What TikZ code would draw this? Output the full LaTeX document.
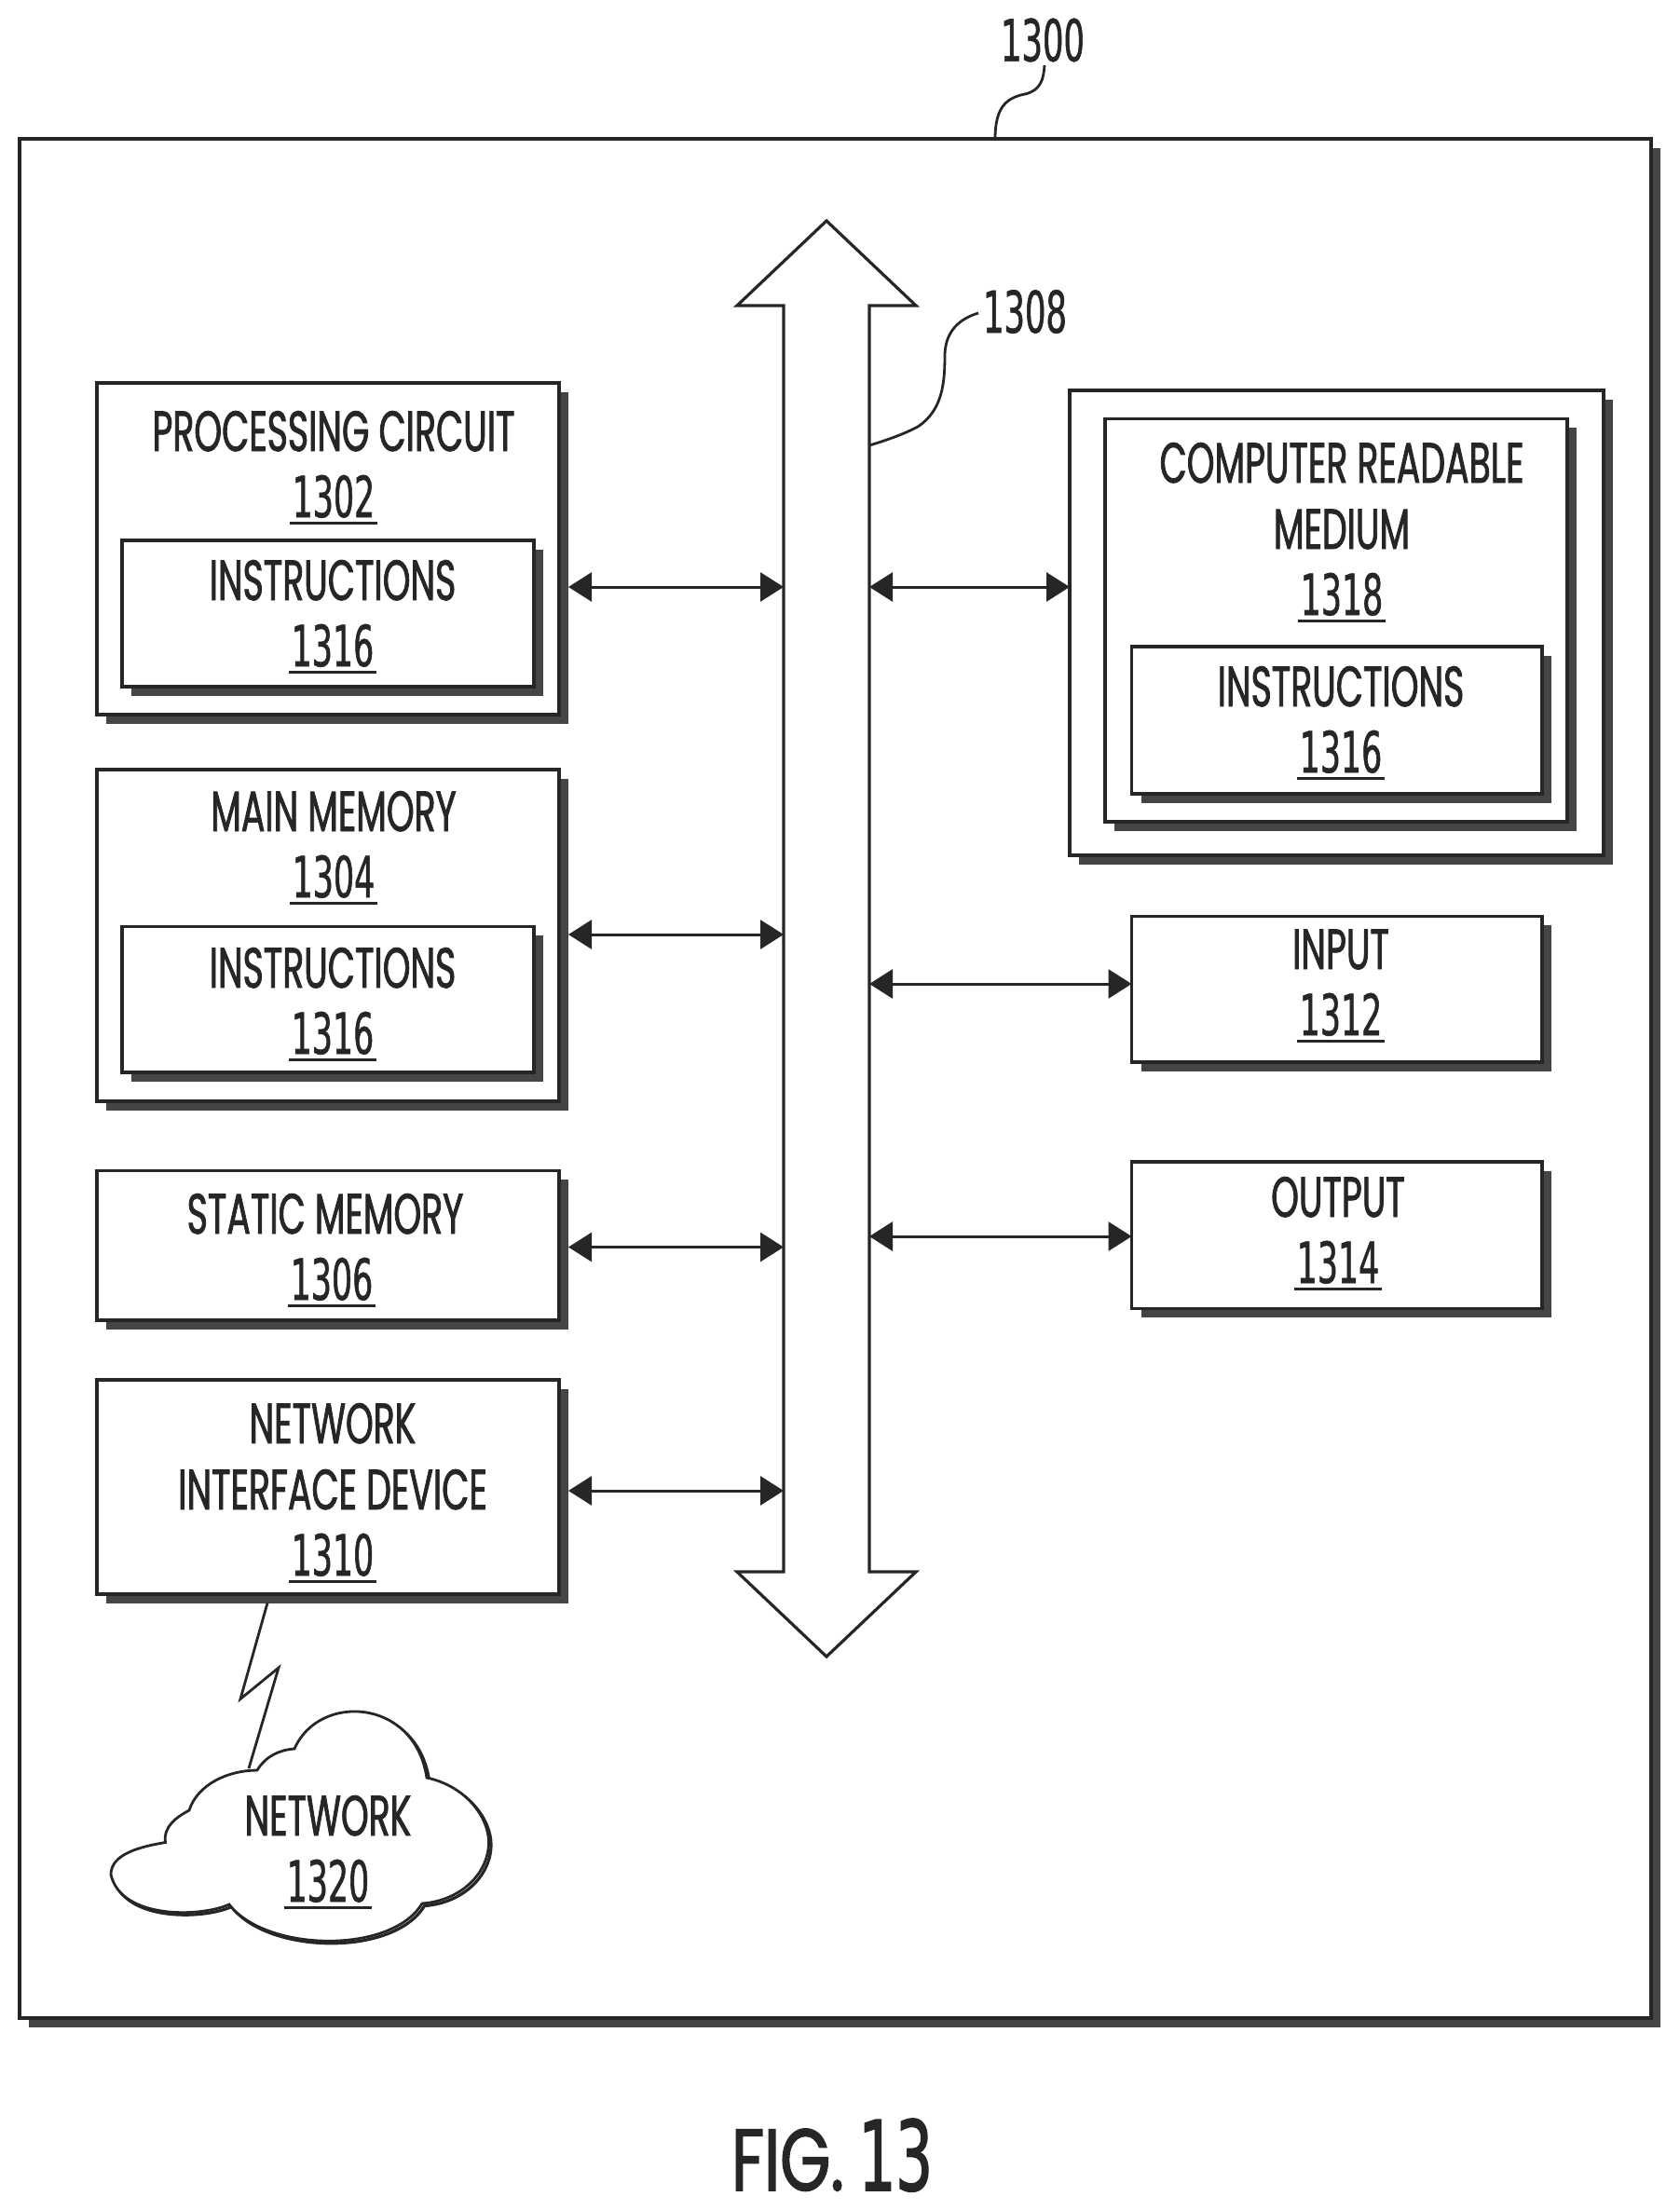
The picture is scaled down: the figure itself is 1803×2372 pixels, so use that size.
\documentclass[tikz,border=0pt]{standalone}
\usepackage{fontspec}
\setmainfont{Poppins}[FakeStretch=0.62,FakeBold=1.3]
\newfontfamily\numfont{DejaVu Sans}[FakeStretch=0.57,FakeBold=0.9]
\newfontfamily\figfont{Poppins}[FakeStretch=0.74,FakeBold=1.6]
\newfontfamily\fignum{DejaVu Sans}[FakeStretch=0.6,FakeBold=1.4]
\usetikzlibrary{arrows.meta}
\definecolor{ink}{gray}{0.15}
\definecolor{shade}{gray}{0.27}
\newcommand{\unum}[1]{\setbox0\hbox{\numfont #1}\hbox{\rlap{\kern-1.5pt\rule[-4pt]{\dimexpr\wd0+3pt\relax}{1.6pt}}\box0}}
\newcommand{\pbox}[5]{%
  \pgfmathsetmacro{\bw}{(#4-#2)*0.5}\pgfmathsetmacro{\bh}{(#5-#3)*0.5}%
  \node[shadowbox,minimum width=\bw pt,minimum height=\bh pt] (#1-s) at ({(#2+#4)/2+10},{(#3+#5)/2+9.5}) {};
  \node[panel,minimum width=\bw pt,minimum height=\bh pt] (#1) at ({(#2+#4)/2},{(#3+#5)/2}) {};
}
\tikzset{
  panel/.style={draw=ink,fill=white,line width=1.6pt,inner sep=0pt,outer sep=0pt},
  shadowbox/.style={fill=shade,inner sep=0pt,outer sep=0pt},
  lbl/.style={text=ink,align=center,anchor=north,inner sep=0pt,outer sep=0pt,font=\fontsize{30.5}{35.5}\selectfont},
  ref/.style={text=ink,inner sep=0pt,outer sep=0pt,font=\numfont\fontsize{31}{35}\selectfont},
  pen/.style={draw=ink,line width=1.6pt,line join=miter},
  biarrow/.style={draw=ink,line width=1.5pt,{Triangle[length=12.5pt,width=15.5pt]}-{Triangle[length=12.5pt,width=15.5pt]}},
  thinpen/.style={draw=ink,line width=1.4pt}
}
\begin{document}
\begin{tikzpicture}[x=0.5pt,y=-0.5pt]
\useasboundingbox (0,0) rectangle (1803,2372);
% outer frame
\pbox{frame}{21}{149}{1772}{2166}
% bus
\node[inner sep=0pt,outer sep=0pt,minimum width=46pt,minimum height=679.5pt] (bus) at (887,1007.5) {};
\draw[pen,fill=white] (887,237) -- (983,328) -- (bus.north east) -- (bus.south east) -- (983,1687) -- (887,1778) -- (791,1687) -- (bus.south west) -- (bus.north west) -- (791,328) -- cycle;
% left column
\pbox{pc}{104}{411}{600}{767}
\pbox{pci}{131}{580}{573}{737}
\pbox{mm}{104}{826}{600}{1182}
\pbox{mmi}{131}{994.5}{573}{1151}
\pbox{sm}{104}{1256.5}{600}{1417}
\pbox{nid}{104}{1481}{600}{1711}
% right column
\pbox{crm}{1148}{419}{1721}{918}
\pbox{crmm}{1186}{449.5}{1682}{882}
\pbox{crmi}{1214.5}{694}{1655}{852}
\pbox{inp}{1214.5}{983.5}{1655}{1140}
\pbox{out}{1214.5}{1247}{1655}{1404.5}
% labels
\node[lbl] (pct) at (358,441) {PROCESSING CIRCUIT\\\unum{1302}};
\node[lbl] (pcit) at (357,601) {INSTRUCTIONS\\\unum{1316}};
\node[lbl] (mmt) at (358,849) {MAIN MEMORY\\\unum{1304}};
\node[lbl] (mmit) at (357,1017) {INSTRUCTIONS\\\unum{1316}};
\node[lbl] (smt) at (356,1281) {STATIC MEMORY\hspace*{7pt}\\\unum{1306}};
\node[lbl] (nidt) at (357,1506) {NETWORK\\INTERFACE DEVICE\\\unum{1310}};
\node[lbl] (crmt) at (1440,475) {COMPUTER READABLE\\MEDIUM\\\unum{1318}};
\node[lbl] (crmit) at (1439,715) {INSTRUCTIONS\\\unum{1316}};
\node[lbl] (inpt) at (1439,997.5) {INPUT\\\unum{1312}};
\node[lbl] (outt) at (1436,1263) {OUTPUT\\\unum{1314}};
% connector heights
\coordinate (ya) at (0,630);
\coordinate (yb) at (0,1003);
\coordinate (yc) at (0,1338.5);
\coordinate (yd) at (0,1600);
\coordinate (ye) at (0,1056);
\coordinate (yf) at (0,1327);
\draw[biarrow] (pc-s.east |- ya) -- (bus.west |- ya);
\draw[biarrow] (mm-s.east |- yb) -- (bus.west |- yb);
\draw[biarrow] (sm-s.east |- yc) -- (bus.west |- yc);
\draw[biarrow] (nid-s.east |- yd) -- (bus.west |- yd);
\draw[biarrow] (bus.east |- ya) -- (crm.west |- ya);
\draw[biarrow] (bus.east |- ye) -- (inp.west |- ye);
\draw[biarrow] (bus.east |- yf) -- (out.west |- yf);
% cloud
\def\cloudpath{(119,2012) .. controls (119,1990) and (150,1982) .. (177.5,1977.5)
 .. controls (175,1960) and (190,1950) .. (203,1943)
 .. controls (212,1915) and (245,1900) .. (276,1900)
 .. controls (285,1885) and (300,1878) .. (316,1877)
 .. controls (342,1817) and (445,1822) .. (458,1908)
 .. controls (500,1917) and (524,1950) .. (524.5,1976.5)
 .. controls (525,2010) and (495,2040) .. (453,2043)
 .. controls (420,2098) and (285,2095) .. (246,2044)
 .. controls (215,2058) and (130,2060) .. (119,2012) -- cycle}
\draw[draw=ink,line width=1.6pt,shift={(2.5,2.5)}] \cloudpath;
\draw[draw=ink,fill=white,line width=1.4pt] \cloudpath;
\node[lbl] (cloudt) at (352,1927) {NETWORK\\\unum{1320}};
% lightning
\coordinate (cloudtop) at (267,1898);
\coordinate (boltA) at (258,1823.5);
\coordinate (boltB) at (299,1790);
\draw[thinpen,line join=miter] (nid-s.south -| 287,0) -- (boltA) -- (boltB) -- (cloudtop);
% references
\node[ref] (r1300) at (1119,43) {1300};
\coordinate (l1300) at (1121,70);
\draw[thinpen] (l1300) .. controls (1120,85) and (1117,97) .. (1100,101) .. controls (1080,105) and (1068,115) .. (frame.north -| 1068,0);
\node[ref] (r1308) at (1100,334.5) {1308};
\coordinate (l1308) at (1050,336);
\coordinate (b1308) at (933,478);
\draw[thinpen] (l1308) .. controls (1030,342) and (1015,355) .. (1014,380) .. controls (1014,410) and (1012,440) .. (985,458) .. controls (970,466) and (950,473) .. (b1308);
% caption
\node[text=ink,inner sep=0pt,anchor=base] (fig) at (893,2351) {\figfont\fontsize{47}{50}\selectfont FIG.\,\fignum\fontsize{52}{50}\selectfont 13};
\end{tikzpicture}
\end{document}
